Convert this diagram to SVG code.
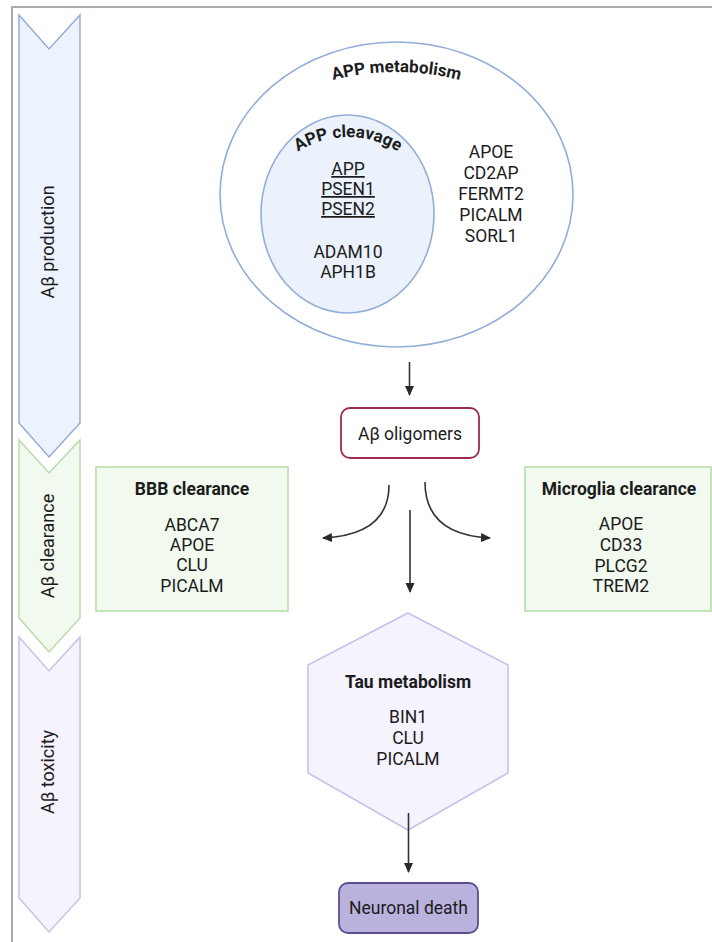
<svg xmlns="http://www.w3.org/2000/svg" width="712" height="942" viewBox="0 0 712 942">
  <style>
    text { font-family: Roboto, "Liberation Sans", Arial, sans-serif; fill: #1c1c1c; }
    .lbl { font-size: 17.5px; text-anchor: middle; }
    .ttl { font-size: 17.5px; font-weight: bold; text-anchor: middle; }
    .arc { font-size: 17px; font-weight: bold; }
    .side { font-size: 18px; text-anchor: middle; }
    .ul { text-decoration: underline; }
    .conn { fill: none; stroke: #333; stroke-width: 1.6; }
  </style>
  <defs>
    <marker id="head" viewBox="0 0 10 10" refX="9" refY="5" markerWidth="10" markerHeight="10" markerUnits="userSpaceOnUse" orient="auto">
      <path d="M0,0.5 L10,5 L0,9.5 Z" fill="#2a2a2a"/>
    </marker>
    <linearGradient id="fadeL" gradientUnits="userSpaceOnUse" x1="389" y1="485" x2="323" y2="538">
      <stop offset="0" stop-color="#e2e2e2"/>
      <stop offset="0.6" stop-color="#555"/>
      <stop offset="1" stop-color="#2a2a2a"/>
    </linearGradient>
    <linearGradient id="fadeR" gradientUnits="userSpaceOnUse" x1="425" y1="482" x2="490" y2="538">
      <stop offset="0" stop-color="#e2e2e2"/>
      <stop offset="0.6" stop-color="#555"/>
      <stop offset="1" stop-color="#2a2a2a"/>
    </linearGradient>
    <path id="outerArc" d="M276.5,102.7 A250,250 0 0 1 516.5,102.7"/>
    <path id="innerArc" d="M258,206.6 A93,93 0 0 1 438,206.6"/>
  </defs>

  <rect x="0" y="0" width="712" height="942" fill="#ffffff"/>

  <!-- frame -->
  <g id="frame" stroke="#ababab" stroke-width="2" fill="none">
    <line x1="11" y1="7" x2="712" y2="7"/>
    <line x1="12" y1="6" x2="12" y2="942"/>
  </g>

  <!-- stage chevrons -->
  <g id="stage-production">
    <polygon points="19,15 49,49 80,15 80,423 49,457 19,423" fill="#edf3fc" stroke="#93add9" stroke-width="1.5"/>
    <text class="side" transform="translate(54,242) rotate(-90)">Aβ production</text>
  </g>
  <g id="stage-clearance">
    <polygon points="19,440 49,473 80,440 80,618 49,652 19,618" fill="#f2f9ee" stroke="#b8dca9" stroke-width="1.5"/>
    <text class="side" transform="translate(54,546) rotate(-90)">Aβ clearance</text>
  </g>
  <g id="stage-toxicity">
    <polygon points="19,637 49,671 80,637 80,898 49,932 19,898" fill="#f5f3fd" stroke="#c6c2ec" stroke-width="1.5"/>
    <text class="side" transform="translate(54,772) rotate(-90)">Aβ toxicity</text>
  </g>

  <!-- APP metabolism -->
  <g id="app-metabolism">
    <ellipse cx="396.5" cy="194.5" rx="176.5" ry="152.5" fill="#ffffff" stroke="#93add9" stroke-width="1.6"/>
    <text class="arc"><textPath href="#outerArc" startOffset="50%" text-anchor="middle">APP metabolism</textPath></text>
    <text class="lbl" x="491" y="158">APOE</text>
    <text class="lbl" x="491" y="179">CD2AP</text>
    <text class="lbl" x="491" y="200">FERMT2</text>
    <text class="lbl" x="491" y="221">PICALM</text>
    <text class="lbl" x="491" y="242">SORL1</text>
  </g>

  <!-- APP cleavage -->
  <g id="app-cleavage">
    <ellipse cx="347.5" cy="214" rx="86.5" ry="99" fill="#ebf2fb" stroke="#93add9" stroke-width="1.6"/>
    <text class="arc"><textPath href="#innerArc" startOffset="50%" text-anchor="middle">APP cleavage</textPath></text>
    <text class="lbl ul" x="348" y="175">APP</text>
    <text class="lbl ul" x="348" y="195">PSEN1</text>
    <text class="lbl ul" x="348" y="215">PSEN2</text>
    <text class="lbl" x="348" y="258">ADAM10</text>
    <text class="lbl" x="348" y="278">APH1B</text>
  </g>

  <!-- Aβ oligomers -->
  <g id="oligomers">
    <rect x="341" y="408" width="138" height="50" rx="9" fill="#ffffff" stroke="#9b2d4b" stroke-width="1.8"/>
    <text class="lbl" x="410" y="440">Aβ oligomers</text>
  </g>

  <!-- BBB clearance -->
  <g id="bbb-clearance">
    <rect x="96" y="467" width="192" height="144" fill="#f2f9ee" stroke="#b8dca9" stroke-width="1.6"/>
    <text class="ttl" x="192" y="495">BBB clearance</text>
    <text class="lbl" x="192" y="531">ABCA7</text>
    <text class="lbl" x="192" y="551">APOE</text>
    <text class="lbl" x="192" y="571">CLU</text>
    <text class="lbl" x="192" y="592">PICALM</text>
  </g>

  <!-- Microglia clearance -->
  <g id="microglia-clearance">
    <rect x="525" y="467" width="186" height="144" fill="#f2f9ee" stroke="#b8dca9" stroke-width="1.6"/>
    <text class="ttl" x="619" y="495">Microglia clearance</text>
    <text class="lbl" x="621" y="530">APOE</text>
    <text class="lbl" x="621" y="551">CD33</text>
    <text class="lbl" x="621" y="572">PLCG2</text>
    <text class="lbl" x="621" y="592">TREM2</text>
  </g>

  <!-- Tau metabolism -->
  <g id="tau-metabolism">
    <polygon points="408,613 508,665 508,773 408,830 308,773 308,665" fill="#f5f3fd" stroke="#c6c2ec" stroke-width="1.6"/>
    <text class="ttl" x="408" y="688">Tau metabolism</text>
    <text class="lbl" x="408" y="723">BIN1</text>
    <text class="lbl" x="408" y="744">CLU</text>
    <text class="lbl" x="408" y="765">PICALM</text>
  </g>

  <!-- Neuronal death -->
  <g id="neuronal-death">
    <rect x="339" y="883" width="139" height="50" rx="9" fill="#b9b2dc" stroke="#5e4b91" stroke-width="1.8"/>
    <text class="lbl" x="408.5" y="914">Neuronal death</text>
  </g>

  <!-- connectors -->
  <g id="connectors">
    <path class="conn" d="M409.5,362 L409.5,395" marker-end="url(#head)"/>
    <path class="conn" d="M389,485 C389,520 365,536 323,538" stroke="url(#fadeL)" marker-end="url(#head)"/>
    <path class="conn" d="M425,482 C425,520 450,536 490,538" stroke="url(#fadeR)" marker-end="url(#head)"/>
    <path class="conn" d="M410,510 L410,592" marker-end="url(#head)"/>
    <path class="conn" d="M408.5,813 L408.5,872" marker-end="url(#head)"/>
  </g>
</svg>
